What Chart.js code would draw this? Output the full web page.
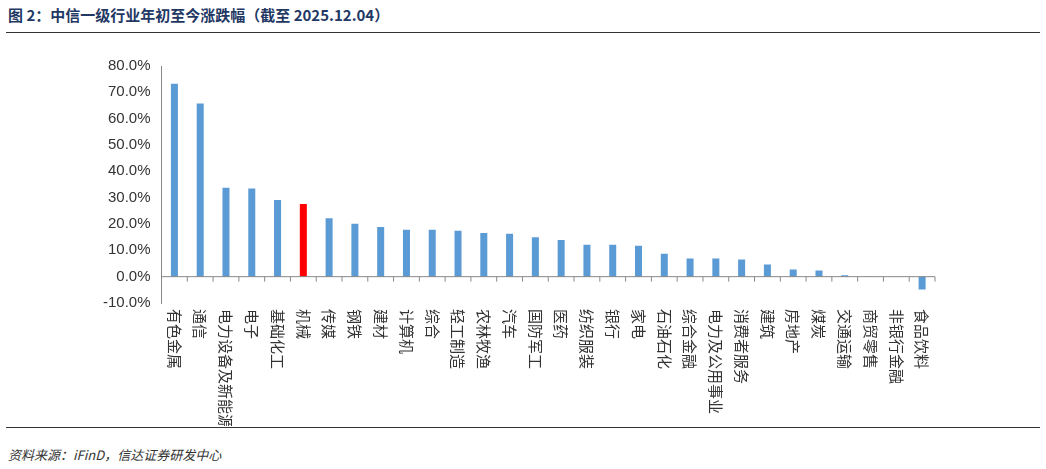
<!DOCTYPE html><html><head><meta charset="utf-8">
<script src="https://cdn.jsdelivr.net/npm/chart.js@4"></script>
<style>
body{margin:0;width:1046px;height:469px;background:#fff;font-family:"Noto Sans CJK SC",sans-serif;position:relative;overflow:hidden}
#t{position:absolute;left:8px;top:4px;font-size:15px;font-weight:bold;color:#1f3864}
#l1{position:absolute;left:6px;right:6px;top:32px;border-top:1.5px solid #333}
#l2{position:absolute;left:6px;right:6px;top:427px;border-top:1.5px solid #333}
#s{position:absolute;left:8px;top:445px;font-size:13px;font-style:italic;color:#333}
#w{position:absolute;left:100px;top:54px;width:845px;height:372px}
</style></head><body>
<div id="t">图 2：中信一级行业年初至今涨跌幅（截至 2025.12.04）</div>
<div id="l1"></div><div id="l2"></div>
<div id="s">资料来源：iFinD，信达证券研发中心</div>
<div id="w"><canvas id="c"></canvas></div>
<script>
const categories=["有色金属","通信","电力设备及新能源","电子","基础化工","机械","传媒","钢铁","建材","计算机","综合","轻工制造","农林牧渔","汽车","国防军工","医药","纺织服装","银行","家电","石油石化","综合金融","电力及公用事业","消费者服务","建筑","房地产","煤炭","交通运输","商贸零售","非银行金融","食品饮料"];
const values=[73.3,65.8,33.8,33.5,29.1,27.6,22.2,20.1,18.9,17.8,17.8,17.4,16.6,16.3,15.0,13.9,12.1,12.1,11.7,8.7,6.9,6.9,6.5,4.6,2.7,2.3,0.5,0.1,0.0,-4.9];
const highlight="机械";
const colors=categories.map(c=>c===highlight?"#ff0000":"#5b9bd5");
const vlabels={id:"vl",afterDraw(ch){const x=ch.scales.x,y=ch.scales.y,ctx=ch.ctx;ctx.save();
const y0=y.getPixelForValue(0);ctx.strokeStyle="#888";ctx.lineWidth=1;ctx.beginPath();ctx.moveTo(x.left,y0);ctx.lineTo(x.right,y0);
for(let i=0;i<=categories.length;i++){const px=x.left+(x.right-x.left)*i/categories.length;ctx.moveTo(px,y0);ctx.lineTo(px,y0+5);}ctx.stroke();
ctx.font='15px "Noto Sans CJK SC"';ctx.fillStyle="#333";ctx.textBaseline="middle";ctx.textAlign="left";
categories.forEach((c,i)=>{const px=x.getPixelForTick(i);ctx.save();ctx.translate(px,x.top+6);ctx.rotate(Math.PI/2);ctx.fillText(c,0,0);ctx.restore();});ctx.restore();}};
new Chart(document.getElementById("c"),{type:"bar",data:{labels:categories,datasets:[{data:values,backgroundColor:colors,categoryPercentage:0.8,barPercentage:0.34}]},
options:{responsive:true,maintainAspectRatio:false,animation:false,plugins:{legend:{display:false},tooltip:{enabled:false}},
layout:{padding:{right:10,top:10}},
scales:{x:{grid:{display:false},border:{display:false},ticks:{display:false},afterFit:s=>{s.height=123}},
y:{min:-10,max:80,ticks:{stepSize:10,color:"#333",font:{size:15,family:"Liberation Sans"},callback:v=>v.toFixed(1)+"%"},grid:{display:false},border:{color:"#888"}}}},
plugins:[vlabels]});
</script></body></html>
